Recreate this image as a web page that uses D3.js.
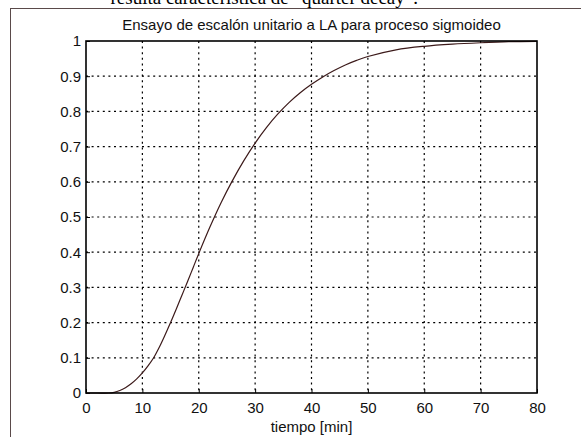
<!DOCTYPE html>
<html>
<head>
<meta charset="utf-8">
<script src="https://cdn.jsdelivr.net/npm/d3@7"></script>
<style>
  body { margin: 0; background: #fff; }
  text { font-family: Arial, "Liberation Sans", sans-serif; }
</style>
</head>
<body>
<div id="chart"></div>
<script>
// Chart data (step response)
const tiempo = [0, 2, 4, 5, 6, 7, 8, 9, 10, 11, 12, 13, 14, 15, 16, 17, 18, 19, 20,
                22, 24, 26, 28, 30, 32, 34, 36, 38, 40, 42, 44, 46, 48, 50,
                55, 60, 65, 70, 75, 80];
const respuesta = [0, 0, 0, 0.002, 0.007, 0.015, 0.026, 0.04, 0.057, 0.077, 0.1, 0.13, 0.164, 0.2, 0.238, 0.277, 0.316, 0.356, 0.396,
                   0.472, 0.542, 0.604, 0.66, 0.71, 0.754, 0.792, 0.825, 0.853, 0.877, 0.898, 0.916, 0.932, 0.945, 0.956,
                   0.975, 0.985, 0.991, 0.995, 0.998, 0.999];
const xTicks = [0, 10, 20, 30, 40, 50, 60, 70, 80];
const yTicks = [0, 0.1, 0.2, 0.3, 0.4, 0.5, 0.6, 0.7, 0.8, 0.9, 1];

const width = 581;
const height = 437;
const plot = { left: 86, top: 41, right: 537, bottom: 393 };

const svg = d3.select("#chart")
    .append("svg")
    .attr("width", width)
    .attr("height", height);

// caption line from the document, cut by the top edge
svg.append("text")
    .attr("x", 418)
    .attr("y", 4)
    .attr("text-anchor", "end")
    .style("font-family", "'Liberation Serif', 'Times New Roman', serif")
    .style("font-size", "19px")
    .text("resulta característica de \u201Cquarter decay\u201D.");

// figure frame
svg.append("rect")
    .attr("x", 10.5)
    .attr("y", 8.5)
    .attr("width", 700)
    .attr("height", 600)
    .attr("fill", "none")
    .attr("stroke", "#5a4a4a")
    .attr("stroke-width", 1);

const x = d3.scaleLinear().domain([0, 80]).range([plot.left, plot.right]);
const y = d3.scaleLinear().domain([0, 1]).range([plot.bottom, plot.top]);

// grid
svg.append("g")
    .selectAll("line")
    .data(xTicks.slice(1, -1))
    .enter()
    .append("line")
    .attr("x1", d => x(d)).attr("x2", d => x(d))
    .attr("y1", plot.top).attr("y2", plot.bottom)
    .attr("stroke", "#000")
    .attr("stroke-width", 1.2)
    .attr("stroke-dasharray", "2,3.6");

svg.append("g")
    .selectAll("line")
    .data(yTicks.slice(1, -1))
    .enter()
    .append("line")
    .attr("x1", plot.left).attr("x2", plot.right)
    .attr("y1", d => y(d)).attr("y2", d => y(d))
    .attr("stroke", "#000")
    .attr("stroke-width", 1.2)
    .attr("stroke-dasharray", "2,3.6");

// axes with MATLAB-like inward ticks
const xAxis = svg.append("g")
    .attr("transform", `translate(0,${plot.bottom})`)
    .call(d3.axisBottom(x).tickValues(xTicks).tickSize(-4).tickPadding(9).tickFormat(d3.format("d")));
const yAxis = svg.append("g")
    .attr("transform", `translate(${plot.left},0)`)
    .call(d3.axisLeft(y).tickValues(yTicks).tickSize(-4).tickPadding(5).tickFormat(d => d === 0 || d === 1 ? d : d3.format(".1f")(d)));

[xAxis, yAxis].forEach(a => {
    a.select(".domain").remove();
    a.selectAll("line").attr("stroke", "#000");
    a.selectAll("text")
        .attr("fill", "#111")
        .style("font-size", "15px")
        .style("font-family", "Arial, 'Liberation Sans', sans-serif");
});

// response curve
const line = d3.line()
    .x((d, i) => x(tiempo[i]))
    .y(d => y(d))
    .curve(d3.curveCatmullRom.alpha(0.5));

svg.append("path")
    .datum(respuesta)
    .attr("d", line)
    .attr("fill", "none")
    .attr("stroke", "#3c1a1a")
    .attr("stroke-width", 1.2);

// axes box
svg.append("rect")
    .attr("x", plot.left)
    .attr("y", plot.top)
    .attr("width", plot.right - plot.left)
    .attr("height", plot.bottom - plot.top)
    .attr("fill", "none")
    .attr("stroke", "#000")
    .attr("stroke-width", 1.6);

// title and label
svg.append("text")
    .attr("x", (plot.left + plot.right) / 2)
    .attr("y", 30)
    .attr("text-anchor", "middle")
    .style("font-size", "15px")
    .attr("fill", "#111")
    .text("Ensayo de escalón unitario a LA para proceso sigmoideo");

svg.append("text")
    .attr("x", (plot.left + plot.right) / 2)
    .attr("y", 432)
    .attr("text-anchor", "middle")
    .style("font-size", "15px")
    .attr("fill", "#111")
    .text("tiempo [min]");
</script>
</body>
</html>
